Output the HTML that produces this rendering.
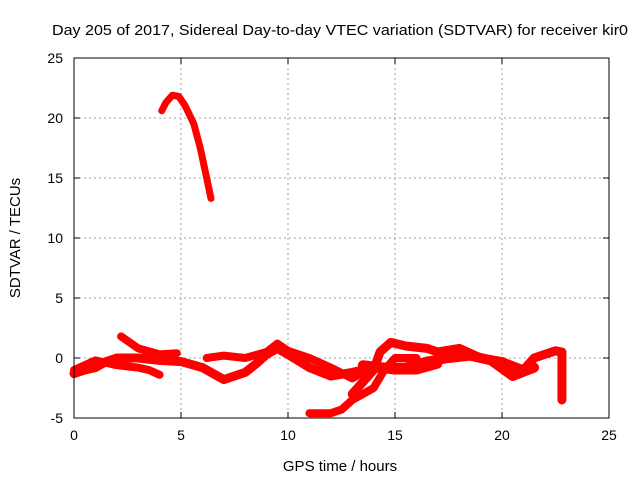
<!DOCTYPE html>
<html><head><meta charset="utf-8"><style>
body{margin:0;background:#fff}
svg text{font-family:"Liberation Sans",sans-serif;font-size:14px;fill:#000}
</style></head><body>
<svg width="640" height="480" id="c">
<rect width="640" height="480" fill="#fff"/>
<text x="52" y="35" textLength="576" lengthAdjust="spacingAndGlyphs" style="font-size:15px">Day 205 of 2017, Sidereal Day-to-day VTEC variation (SDTVAR) for receiver kir0</text>
<text x="340" y="471" text-anchor="middle" style="font-size:15px">GPS time / hours</text>
<text transform="translate(20,238) rotate(-90)" text-anchor="middle" style="font-size:15px">SDTVAR / TECUs</text>
<g id="grid"></g><g id="data"></g><g id="axes"></g>
</svg>
<script>
const xTicks=[0,5,10,15,20,25];
const yTicks=[-5,0,5,10,15,20,25];
const arcX=[4.1,4.3,4.6,4.9,5.2,5.6,5.9,6.2,6.4];
const arcY=[20.6,21.3,21.9,21.8,21.0,19.5,17.5,15.0,13.3];
const s1X=[0,0.5,1,1.5,2,3,4,5,6,7,8,8.5,9,9.5,10,11,12,13,14,15,16,17];
const s1Y=[-1.3,-1,-0.8,-0.3,0,0,-0.2,-0.3,-0.8,-1.8,-1.2,-0.5,0.3,0.8,0.3,-0.8,-1.5,-1.2,-0.8,-1,-1,-0.5];
const s2X=[2.2,3,4,4.8];
const s2Y=[1.8,0.8,0.3,0.4];
const s3X=[0,1,2,3,3.5,4];
const s3Y=[-1,-0.2,-0.6,-0.8,-1.0,-1.4];
const s4X=[6.2,7,8,9,9.5,10,11,12,13,13.5];
const s4Y=[0,0.2,0,0.5,1.2,0.6,0,-0.8,-1.7,-1.2];
const s5X=[11,12,12.5,13,14,14.5,15,16];
const s5Y=[-4.6,-4.6,-4.3,-3.5,-2.5,-1,0,0];
const s6X=[13,13.5,14,14.3,14.8,15.5,16.5,17,18,19,20,21,21.5,22,22.5,22.8,22.8,22.8];
const s6Y=[-3,-2,-1,0.5,1.3,1,0.8,0.5,0.8,0,-0.3,-1,0,0.3,0.6,0.5,-1,-3.5];
const s7X=[13.5,14.5,15.5,16.5,17.5,18.5,19.5,20.5,21.5];
const s7Y=[-0.6,-0.8,-0.8,-0.3,0,0.2,-0.2,-1.5,-0.8];
const L=74,R=609,T=58,B=418;
const xs=v=>L+(v-0)*(R-L)/25, ys=v=>B-(v+5)*(B-T)/30;
const NS='http://www.w3.org/2000/svg';
function mk(t,a,p){const e=document.createElementNS(NS,t);for(const k in a)e.setAttribute(k,a[k]);p.appendChild(e);return e;}
const g=document.getElementById('grid'),ax=document.getElementById('axes'),d=document.getElementById('data');
xTicks.forEach(v=>{const x=xs(v);
if(v>0&&v<25){const l=mk('line',{x1:x,x2:x,y1:T,y2:B,stroke:'#a0a0a0','stroke-dasharray':'2,3'},g);}
mk('line',{x1:x,x2:x,y1:B,y2:B-6,stroke:'#000'},ax);mk('line',{x1:x,x2:x,y1:T,y2:T+6,stroke:'#000'},ax);
const t=mk('text',{x:x,y:B+22,'text-anchor':'middle'},ax);t.textContent=v;
});
yTicks.forEach(v=>{const y=ys(v);
if(v>-5&&v<25){const l=mk('line',{x1:L,x2:R,y1:y,y2:y,stroke:'#a0a0a0','stroke-dasharray':'2,3'},g);}
mk('line',{x1:L,x2:L+6,y1:y,y2:y,stroke:'#000'},ax);mk('line',{x1:R,x2:R-6,y1:y,y2:y,stroke:'#000'},ax);
const t=mk('text',{x:L-11,y:y+5,'text-anchor':'end'},ax);t.textContent=v;
});
const fr=mk('rect',{x:L,y:T,width:R-L,height:B-T,fill:'none',stroke:'#000'},ax);

function series(X,Y,w,name){const pts=X.map((x,i)=>xs(x)+','+ys(Y[i])).join(' ');
const p=mk('polyline',{points:pts,fill:'none',stroke:'#ff0000','stroke-width':w,'stroke-linejoin':'round','stroke-linecap':'round'},d);
}
series(arcX,arcY,7,'series-arc');
series(s1X,s1Y,9,'series-1');
series(s2X,s2Y,8,'series-2');
series(s3X,s3Y,8,'series-3');
series(s4X,s4Y,8,'series-4');
series(s5X,s5Y,8,'series-5');
series(s6X,s6Y,9,'series-6');
series(s7X,s7Y,10,'series-7');
</script>
</body></html>
